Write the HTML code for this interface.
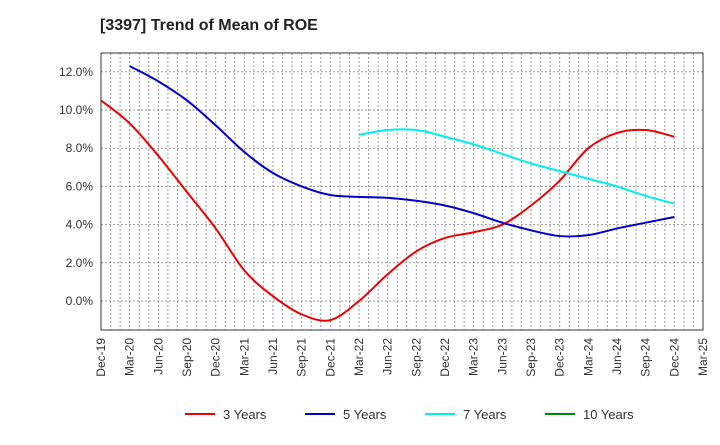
<!DOCTYPE html>
<html><head><meta charset="utf-8"><style>
body{margin:0;background:#fff;font-family:"Liberation Sans",sans-serif}
</style></head><body>
<svg id="c" width="720" height="440" xmlns="http://www.w3.org/2000/svg"></svg>
<script>
const categories=["Dec-19","Mar-20","Jun-20","Sep-20","Dec-20","Mar-21","Jun-21","Sep-21","Dec-21","Mar-22","Jun-22","Sep-22","Dec-22","Mar-23","Jun-23","Sep-23","Dec-23","Mar-24","Jun-24","Sep-24","Dec-24","Mar-25"];
const yTicks=[0,2,4,6,8,10,12];
const s3=[10.5,9.3,7.6,5.7,3.8,1.6,0.25,-0.7,-1.0,0.0,1.4,2.6,3.3,3.6,4.0,5.0,6.3,8.0,8.8,8.95,8.6];
const s5=[null,12.3,11.5,10.5,9.2,7.8,6.7,6.0,5.55,5.45,5.4,5.25,5.0,4.6,4.1,3.7,3.4,3.45,3.8,4.1,4.4];
const s7=[null,null,null,null,null,null,null,null,null,8.7,8.95,8.95,8.6,8.2,7.7,7.2,6.8,6.4,6.0,5.5,5.1];
const s10=[];
const L=101,R=703,T=53,B=330;
const x=i=>L+i*(R-L)/21;
const y=v=>301-v*19.1;
const svg=document.getElementById('c');
const NS='http://www.w3.org/2000/svg';
function mk(t,a){const e=document.createElementNS(NS,t);for(const k in a)e.setAttribute(k,a[k]);svg.appendChild(e);return e;}
const title=mk('text',{x:100,y:30,'font-size':16,'font-weight':'bold',fill:'#222'});


title.textContent='[3397]  Trend of Mean of ROE';
for(let m=1;m<63;m++){const xx=L+m*(R-L)/63;const g=mk('line',{x1:xx,x2:xx,y1:T,y2:B,stroke:'#999','stroke-dasharray':'2,2','stroke-width':1});

}
yTicks.forEach(v=>{const g=mk('line',{x1:L,x2:R,y1:y(v),y2:y(v),stroke:'#999','stroke-dasharray':'2,2'});


const t=mk('text',{x:L-8,y:y(v)+4,'font-size':12,'text-anchor':'end',fill:'#333'});


t.textContent=v.toFixed(1)+'%';});
const fr=mk('rect',{x:L,y:T,width:R-L,height:B-T,fill:'none',stroke:'#333'});


categories.forEach((c,i)=>{const t=mk('text',{transform:`translate(${x(i)+4},${B+8}) rotate(-90)`,'font-size':12,'text-anchor':'end',fill:'#333'});


t.textContent=c;});
function path(d,col,name){const pts=[];d.forEach((v,i)=>{if(v!=null)pts.push([x(i),y(v)]);});if(pts.length<2)return;
let s=`M${pts[0][0]},${pts[0][1]}`;for(let i=0;i<pts.length-1;i++){const p0=pts[i-1]||pts[i],p1=pts[i],p2=pts[i+1],p3=pts[i+2]||p2;
s+=` C${p1[0]+(p2[0]-p0[0])/6},${p1[1]+(p2[1]-p0[1])/6} ${p2[0]-(p3[0]-p1[0])/6},${p2[1]-(p3[1]-p1[1])/6} ${p2[0]},${p2[1]}`;}
const p=mk('path',{d:s,fill:'none',stroke:col,'stroke-width':2});

}
path(s3,'#e00','line-3-years');path(s5,'#00c','line-5-years');path(s7,'#0ee','line-7-years');path(s10,'#080','line-10-years');
[['3 Years','#e00',185],['5 Years','#00c',305],['7 Years','#0ee',425],['10 Years','#080',545]].forEach(([n,c,lx])=>{
const l=mk('line',{x1:lx,x2:lx+30,y1:414,y2:414,stroke:c,'stroke-width':2});


const t=mk('text',{x:lx+38,y:419,'font-size':13,fill:'#333'});


t.textContent=n;});
</script>
</body></html>
